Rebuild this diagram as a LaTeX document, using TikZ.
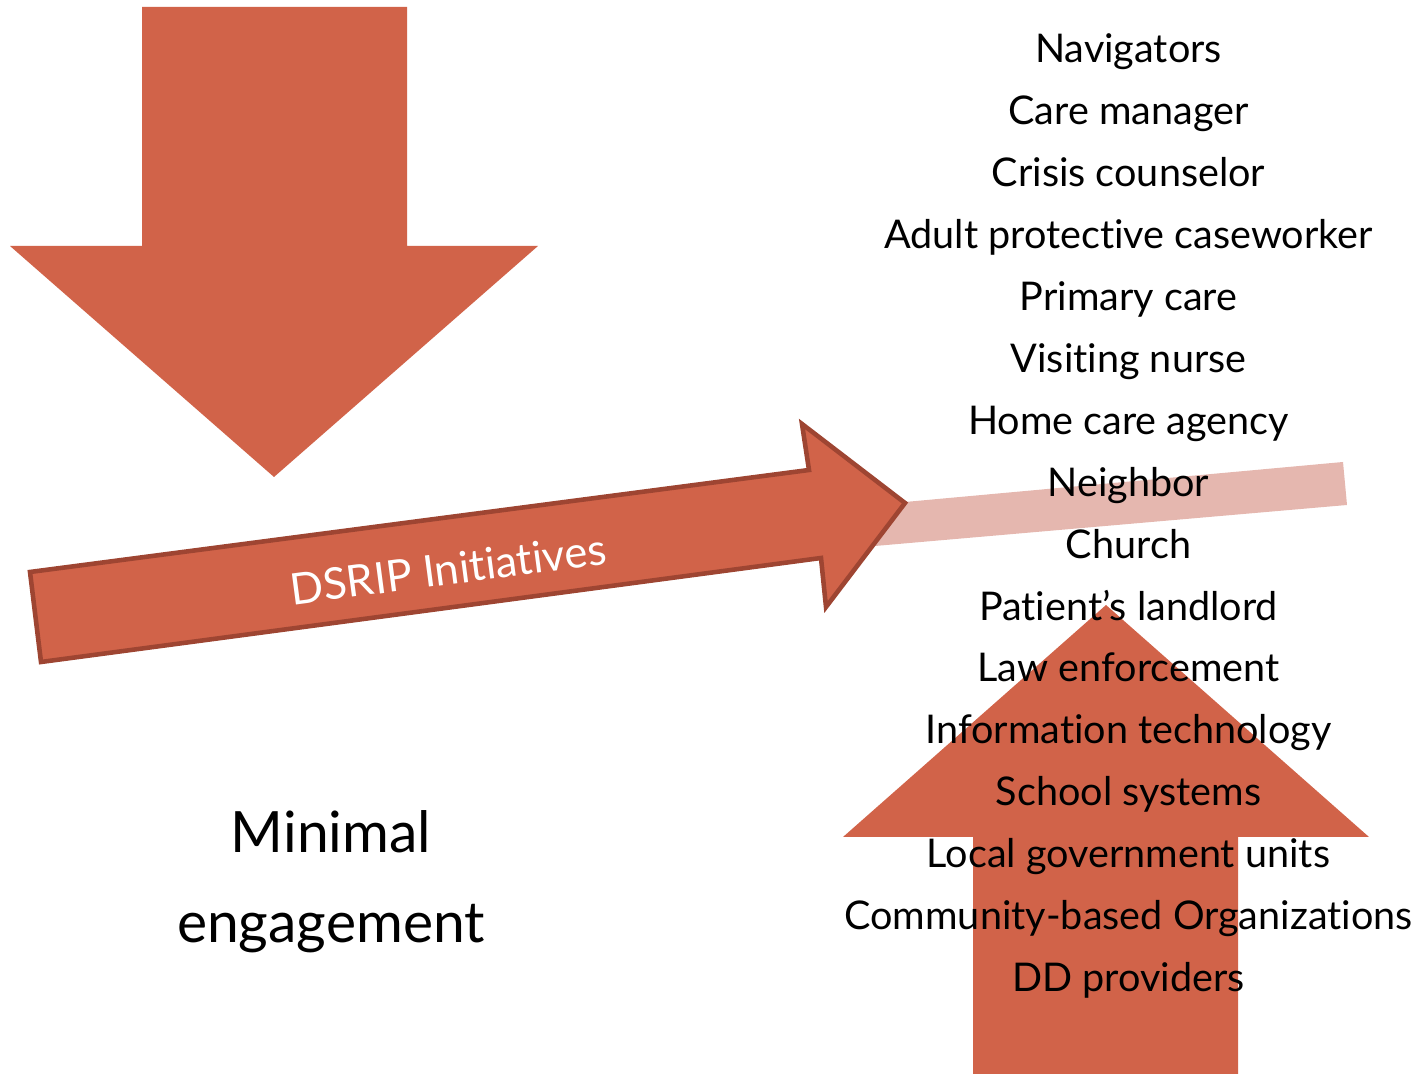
\documentclass[tikz,border=0pt]{standalone}
\usepackage{fontspec}
\setmainfont{Lato}[Ligatures=NoCommon]
\definecolor{rust}{HTML}{D16349}
\definecolor{rustdark}{HTML}{9E4532}
\definecolor{rustpale}{HTML}{E5B7AF}
\tikzset{
  bigarrow/.style={fill=rust},
  role/.style={anchor=base, inner sep=0pt, font=\fontsize{11.25}{13}\selectfont},
  bigtext/.style={anchor=base, inner sep=0pt, font=\fontsize{16.2}{19}\selectfont}
}
\begin{document}
\begin{tikzpicture}[x=0.01cm,y=-0.01cm]
  \useasboundingbox (0,0) rectangle (1421,1074);
  % down arrow
  \fill [bigarrow] (142,7) -- (407,7) -- (407,246) -- (538,246) -- (274,477)
        -- (10,246) -- (142,246) -- cycle;
  % pale band behind the arrow head
  \fill [rustpale] (905,502) -- (1343,462) -- (1347,505) -- (875,546) -- cycle;
  % DSRIP arrow
  \draw [bigarrow, draw=rustdark, line width=1.3pt, line join=miter]
        (30,572) -- (809,470) -- (802,424) -- (905,503) -- (826,607)
        -- (821,558) -- (41,662) -- cycle;
  \node [text=white, rotate=7.5, inner sep=0pt, font=\fontsize{12.4}{14}\selectfont]
        (dsrip) at (448,569) {DSRIP Initiatives};
  % up arrow
  \fill [bigarrow] (973,1074) -- (973,837) -- (843,837) -- (1106,605)
        -- (1369,837) -- (1238,837) -- (1238,1074) -- cycle;
  % list of roles
  \foreach \role [count=\i from 0] in {Navigators, Care manager, Crisis counselor,
      Adult protective caseworker, Primary care, Visiting nurse, Home care agency,
      Neighbor, Church, Patient’s landlord, Law enforcement, Information technology,
      School systems, Local government units, Community-based Organizations,
      DD providers}
    \node [role] (role\i) at (1128.5,{63+61.9*\i}) {\role};
  \node [bigtext] (minimal) at (331,853) {Minimal};
  \node [bigtext] (engagement) at (331,943) {engagement};
\end{tikzpicture}
\end{document}
